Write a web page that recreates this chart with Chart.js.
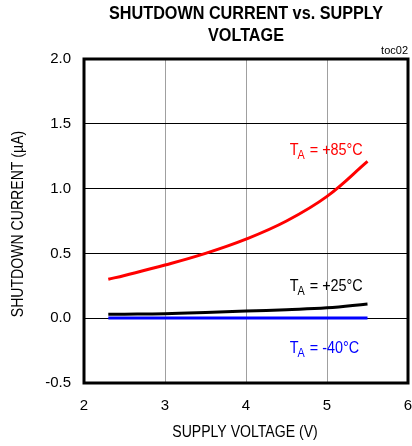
<!DOCTYPE html>
<html><head><meta charset="utf-8">
<script src="https://cdn.jsdelivr.net/npm/chart.js@4/dist/chart.umd.min.js"></script>
<style>html,body{margin:0;padding:0;background:#fff}#wrap{width:412px;height:446px}</style>
</head><body><div id="wrap"><canvas id="c" width="412" height="446"></canvas></div>
<script>
const voltages = [2.3, 2.5, 3.0, 3.5, 4.0, 4.5, 5.0, 5.5];
const current85 = [0.30, 0.33, 0.41, 0.50, 0.61, 0.75, 0.94, 1.21];
const current25 = [0.030, 0.031, 0.035, 0.044, 0.055, 0.066, 0.080, 0.110];
const currentM40 = [0.002, 0.002, 0.002, 0.002, 0.002, 0.002, 0.002, 0.002];
const xTicks = [2, 3, 4, 5, 6];
const yTicks = [-0.5, 0.0, 0.5, 1.0, 1.5, 2.0];
const titleLines = ["SHUTDOWN CURRENT vs. SUPPLY", "VOLTAGE"];
const xTitle = "SUPPLY VOLTAGE (V)";
const yTitle = "SHUTDOWN CURRENT (\u00B5A)";
const seriesLabels = [
  {main: "T", sub: "A", rest: " = +85\u00B0C", color: "#ff0000", x: 4.54, y: 1.262},
  {main: "T", sub: "A", rest: " = +25\u00B0C", color: "#000000", x: 4.54, y: 0.208},
  {main: "T", sub: "A", rest: " = -40\u00B0C", color: "#0000ff", x: 4.54, y: -0.27}
];

const FONT = "'Liberation Sans', Arial, sans-serif";

const mk = (ys) => voltages.map((v, i) => ({x: v, y: ys[i]}));

function condensed(ctx, text, x, y, sx) {
  ctx.save();
  ctx.translate(x, y);
  ctx.scale(sx, 1);
  ctx.fillText(text, 0, 0);
  ctx.restore();
  return ctx.measureText(text).width * sx;
}

const deco = {
  id: 'deco',
  afterDraw(chart) {
    const ctx = chart.ctx, a = chart.chartArea;
    const xs = chart.scales.x, ys = chart.scales.y;
    ctx.save();
    ctx.strokeStyle = '#000'; ctx.lineWidth = 3;
    ctx.strokeRect(a.left, a.top, a.right - a.left, a.bottom - a.top);
    const cx = (a.left + a.right) / 2;
    ctx.fillStyle = '#000';
    ctx.font = "bold 18px " + FONT;
    ctx.textAlign = 'center'; ctx.textBaseline = 'middle';
    condensed(ctx, titleLines[0], cx, 14, 0.9);
    condensed(ctx, titleLines[1], cx, 36, 0.9);
    ctx.font = "11px " + FONT;
    ctx.textAlign = 'right';
    ctx.fillText("toc02", a.right, 51);
    ctx.font = "16px " + FONT;
    ctx.textAlign = 'center';
    condensed(ctx, xTitle, cx - 1, 433, 0.88);
    ctx.save();
    ctx.translate(19, (a.top + a.bottom) / 2 + 3);
    ctx.rotate(-Math.PI / 2);
    condensed(ctx, yTitle, 0, 0, 0.88);
    ctx.restore();
    seriesLabels.forEach(l => {
      let px = xs.getPixelForValue(l.x), py = ys.getPixelForValue(l.y);
      ctx.fillStyle = l.color;
      ctx.textAlign = 'left'; ctx.textBaseline = 'alphabetic';
      ctx.font = "16px " + FONT;
      px += condensed(ctx, l.main, px, py, 0.9);
      ctx.font = "12px " + FONT;
      px += condensed(ctx, l.sub, px - 1, py + 4, 0.9);
      ctx.font = "16px " + FONT;
      condensed(ctx, l.rest, px, py, 0.9);
    });
    ctx.restore();
  }
};

new Chart(document.getElementById('c'), {
  type: 'line',
  data: {
    datasets: [
      {data: mk(current85), borderColor: '#ff0000', borderWidth: 3},
      {data: mk(current25), borderColor: '#000000', borderWidth: 3},
      {data: mk(currentM40), borderColor: '#0000ff', borderWidth: 3}
    ]
  },
  options: {
    responsive: false, animation: false,
    layout: {padding: {top: 59, right: 4, left: 0, bottom: 0}},
    elements: {point: {radius: 0}, line: {tension: 0.4, fill: false}},
    plugins: {legend: {display: false}, tooltip: {enabled: false}, title: {display: false}},
    scales: {
      x: {
        type: 'linear', min: 2, max: 6,
        afterBuildTicks: (s) => { s.ticks = xTicks.map(v => ({value: v})); },
        afterFit: (s) => { s.height = 63; s.paddingLeft = 0; s.paddingRight = 0; },
        grid: {color: '#a0a0a0', lineWidth: 1, drawTicks: false},
        border: {display: false},
        ticks: {color: '#000', font: {family: FONT, size: 15}, padding: 14,
          callback: (v) => String(v)}
      },
      y: {
        type: 'linear', min: -0.5, max: 2.0,
        afterBuildTicks: (s) => { s.ticks = yTicks.map(v => ({value: v})); },
        afterFit: (s) => { s.width = 84; s.paddingTop = 0; s.paddingBottom = 0; },
        grid: {color: '#000', lineWidth: 1, drawTicks: false},
        border: {display: false},
        ticks: {color: '#000', font: {family: FONT, size: 15}, padding: 13,
          callback: (v) => Number(v).toFixed(1)}
      }
    }
  },
  plugins: [deco]
});
</script></body></html>
